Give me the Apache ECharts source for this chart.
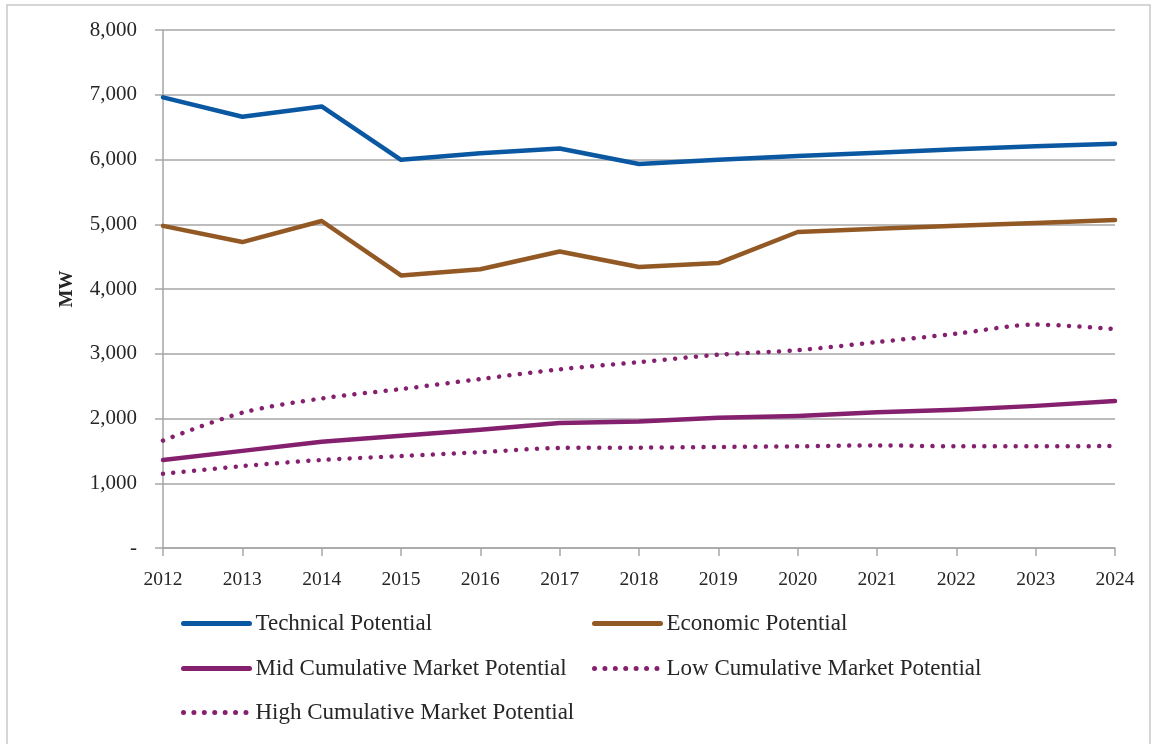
<!DOCTYPE html>
<html>
<head>
<meta charset="utf-8">
<script src="https://cdn.jsdelivr.net/npm/echarts@6/dist/echarts.min.js"></script>
<style>
  html, body { margin: 0; padding: 0; background: #fff; }
  #chart { width: 1154px; height: 744px; }
</style>
</head>
<body>
<div id="chart"></div>
<script>
    // data
    var years        = ['2012', '2013', '2014', '2015', '2016', '2017', '2018', '2019', '2020', '2021', '2022', '2023', '2024'];
    var technical    = [6960, 6660, 6820, 5995, 6095, 6170, 5930, 5995, 6055, 6105, 6160, 6205, 6245];
    var economic     = [4975, 4725, 5050, 4210, 4305, 4580, 4340, 4400, 4880, 4930, 4975, 5020, 5065];
    var midMarket    = [1360, 1500, 1640, 1735, 1825, 1930, 1955, 2010, 2040, 2095, 2135, 2195, 2270];
    var lowMarket    = [1145, 1265, 1360, 1420, 1480, 1545, 1550, 1560, 1570, 1585, 1570, 1570, 1575];
    var highMarket   = [1660, 2090, 2310, 2455, 2610, 2760, 2870, 2985, 3055, 3180, 3310, 3450, 3380];

    var blue   = '#0B58A2';
    var brown  = '#935924';
    var purple = '#85206F';
    var font   = '"Liberation Serif", "DejaVu Serif", serif';

    var myChart = echarts.init(document.getElementById('chart'));

    function solidSeries(name, data, color) {
        return {
            name     : name,
            type     : 'line',
            data     : data,
            symbol   : 'none',
            lineStyle: {color: color, width: 4.5, cap: 'round', join: 'round'},
            itemStyle: {color: color}
        };
    }

    function dottedSeries(name, data, color) {
        return {
            name     : name,
            type     : 'line',
            data     : data,
            symbol   : 'none',
            smooth   : 0.3,
            lineStyle: {color: color, width: 4.5, type: [0.01, 10.4], cap: 'round'},
            itemStyle: {color: color}
        };
    }

    function legendAt(name, left, top) {
        return {
            data      : [name],
            left      : left,
            top       : top,
            itemWidth : 66,
            itemHeight: 14,
            itemGap   : 0,
            itemStyle : {opacity: 0},
            lineStyle : {width: 5, cap: 'round'},
            textStyle : {fontFamily: font, fontSize: 23, color: '#262626', padding: [0, 0, 0, 1]},
            padding   : 0
        };
    }

    var option = {
        animation: false,
        graphic  : [{
            type  : 'rect',
            shape : {x: 7, y: 5, width: 1143, height: 780},
            style : {fill: 'none', stroke: '#c9c9c9', lineWidth: 1.5},
            silent: true
        }],
        legend: [
            legendAt('Technical Potential', 181, 612),
            legendAt('Economic Potential', 592, 612),
            legendAt('Mid Cumulative Market Potential', 181, 657),
            legendAt('Low Cumulative Market Potential', 592, 657),
            legendAt('High Cumulative Market Potential', 181, 701)
        ],
        grid: {left: 163, right: 39, top: 30, bottom: 196},
        xAxis: {
            type       : 'category',
            data       : years,
            boundaryGap: false,
            axisLine   : {lineStyle: {color: '#a6a6a6', width: 1.5}},
            axisTick   : {alignWithLabel: true, length: 8, lineStyle: {color: '#a6a6a6', width: 1.5}},
            axisLabel  : {fontFamily: font, fontSize: 19.5, color: '#262626', margin: 22}
        },
        yAxis: {
            type        : 'value',
            min         : 0,
            max         : 8000,
            interval    : 1000,
            name        : 'MW',
            nameLocation: 'middle',
            nameGap     : 86,
            nameTextStyle: {fontFamily: font, fontSize: 19, fontWeight: 'bold', color: '#262626'},
            axisLine    : {show: true, lineStyle: {color: '#a6a6a6', width: 1.5}},
            axisTick    : {show: true, length: 8, lineStyle: {color: '#a6a6a6', width: 1.5}},
            splitLine   : {lineStyle: {color: '#a6a6a6', width: 1.5}},
            axisLabel   : {
                fontFamily: font, fontSize: 21, color: '#262626', margin: 26,
                formatter : function (v) {
                    return v === 0 ? '-' : v.toLocaleString('en-US');
                }
            }
        },
        series: [
            solidSeries('Technical Potential', technical, blue),
            solidSeries('Economic Potential', economic, brown),
            solidSeries('Mid Cumulative Market Potential', midMarket, purple),
            dottedSeries('Low Cumulative Market Potential', lowMarket, purple),
            dottedSeries('High Cumulative Market Potential', highMarket, purple)
        ]
    };

    myChart.setOption(option);
</script>
</body>
</html>
